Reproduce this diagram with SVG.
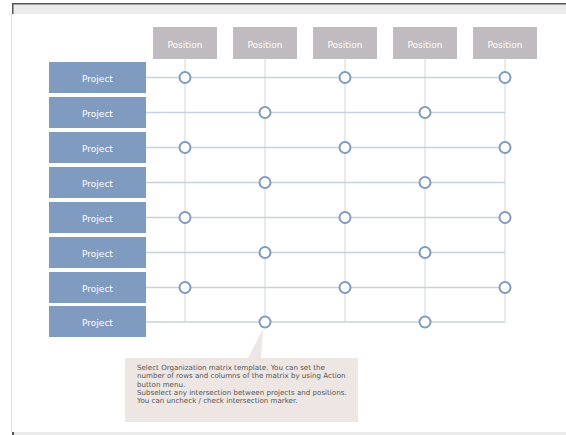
<svg xmlns="http://www.w3.org/2000/svg" width="566" height="435" viewBox="0 0 566 435">
<style>
.pos{fill:#bfbbbe}
.prj{fill:#7f9bc0}
.lbl{font-family:"DejaVu Sans",Verdana,sans-serif;font-size:9px;fill:#ffffff;text-anchor:middle}
.h{stroke:#c8d2df;stroke-width:1.3}
.v{stroke:#dcdfe3;stroke-width:1.3}
.m{fill:#ffffff;stroke:#7f9bc0;stroke-width:2}
.note{font-family:"DejaVu Sans",Verdana,sans-serif;font-size:7.1px;fill:#555555}
</style>
<rect width="566" height="435" fill="#ffffff"/>
<rect x="12" y="4" width="554" height="10" fill="#ebebeb"/>
<rect x="12" y="3" width="554" height="1.5" fill="#555555"/>
<rect x="12" y="3" width="1.5" height="11" fill="#555555"/>
<rect x="11" y="14" width="1" height="418" fill="#e0e0e0"/>
<rect x="12" y="432" width="554" height="3" fill="#ebebeb"/>
<rect x="12" y="432" width="2" height="3" fill="#555555"/>
<g id="connectors">
<line class="v" x1="185" y1="59" x2="185" y2="322"/>
<line class="v" x1="265" y1="59" x2="265" y2="322"/>
<line class="v" x1="345" y1="59" x2="345" y2="322"/>
<line class="v" x1="425" y1="59" x2="425" y2="322"/>
<line class="v" x1="505" y1="59" x2="505" y2="322"/>
<line class="h" x1="146" y1="77.5" x2="505" y2="77.5"/>
<line class="h" x1="146" y1="112.5" x2="505" y2="112.5"/>
<line class="h" x1="146" y1="147.5" x2="505" y2="147.5"/>
<line class="h" x1="146" y1="182.5" x2="505" y2="182.5"/>
<line class="h" x1="146" y1="217.5" x2="505" y2="217.5"/>
<line class="h" x1="146" y1="252.5" x2="505" y2="252.5"/>
<line class="h" x1="146" y1="287.5" x2="505" y2="287.5"/>
<line class="h" x1="146" y1="322" x2="505" y2="322"/>
</g>
<g id="pos1"><rect class="pos" x="153" y="27" width="64" height="32"/><text class="lbl" x="185" y="47.5">Position</text></g>
<g id="pos2"><rect class="pos" x="233" y="27" width="64" height="32"/><text class="lbl" x="265" y="47.5">Position</text></g>
<g id="pos3"><rect class="pos" x="313" y="27" width="64" height="32"/><text class="lbl" x="345" y="47.5">Position</text></g>
<g id="pos4"><rect class="pos" x="393" y="27" width="64" height="32"/><text class="lbl" x="425" y="47.5">Position</text></g>
<g id="pos5"><rect class="pos" x="473" y="27" width="64" height="32"/><text class="lbl" x="505" y="47.5">Position</text></g>
<g id="prj1"><rect class="prj" x="49" y="62" width="97" height="31"/><text class="lbl" x="97.5" y="81.5">Project</text></g>
<g id="prj2"><rect class="prj" x="49" y="97" width="97" height="31"/><text class="lbl" x="97.5" y="116.5">Project</text></g>
<g id="prj3"><rect class="prj" x="49" y="132" width="97" height="31"/><text class="lbl" x="97.5" y="151.5">Project</text></g>
<g id="prj4"><rect class="prj" x="49" y="167" width="97" height="31"/><text class="lbl" x="97.5" y="186.5">Project</text></g>
<g id="prj5"><rect class="prj" x="49" y="202" width="97" height="31"/><text class="lbl" x="97.5" y="221.5">Project</text></g>
<g id="prj6"><rect class="prj" x="49" y="237" width="97" height="31"/><text class="lbl" x="97.5" y="256.5">Project</text></g>
<g id="prj7"><rect class="prj" x="49" y="272" width="97" height="31"/><text class="lbl" x="97.5" y="291.5">Project</text></g>
<g id="prj8"><rect class="prj" x="49" y="306" width="97" height="31"/><text class="lbl" x="97.5" y="325.5">Project</text></g>
<g id="markers">
<circle class="m" cx="185" cy="77.5" r="5.5"/><circle class="m" cx="345" cy="77.5" r="5.5"/><circle class="m" cx="505" cy="77.5" r="5.5"/>
<circle class="m" cx="265" cy="112.5" r="5.5"/><circle class="m" cx="425" cy="112.5" r="5.5"/>
<circle class="m" cx="185" cy="147.5" r="5.5"/><circle class="m" cx="345" cy="147.5" r="5.5"/><circle class="m" cx="505" cy="147.5" r="5.5"/>
<circle class="m" cx="265" cy="182.5" r="5.5"/><circle class="m" cx="425" cy="182.5" r="5.5"/>
<circle class="m" cx="185" cy="217.5" r="5.5"/><circle class="m" cx="345" cy="217.5" r="5.5"/><circle class="m" cx="505" cy="217.5" r="5.5"/>
<circle class="m" cx="265" cy="252.5" r="5.5"/><circle class="m" cx="425" cy="252.5" r="5.5"/>
<circle class="m" cx="185" cy="287.5" r="5.5"/><circle class="m" cx="345" cy="287.5" r="5.5"/><circle class="m" cx="505" cy="287.5" r="5.5"/>
<circle class="m" cx="265" cy="322" r="5.5"/><circle class="m" cx="425" cy="322" r="5.5"/>
</g>
<g id="note">
<path d="M125,358 H248 L263,329 L261,358 H358 V422 H125 Z" fill="#ede6e2"/>
<text class="note" x="137" y="370">Select Organization matrix template. You can set the</text>
<text class="note" x="137" y="378.3">number of rows and columns of the matrix by using Action</text>
<text class="note" x="137" y="386.6">button menu.</text>
<text class="note" x="137" y="394.9">Subselect any intersection between projects and positions.</text>
<text class="note" x="137" y="403.2">You can uncheck / check intersection marker.</text>
</g>
</svg>
